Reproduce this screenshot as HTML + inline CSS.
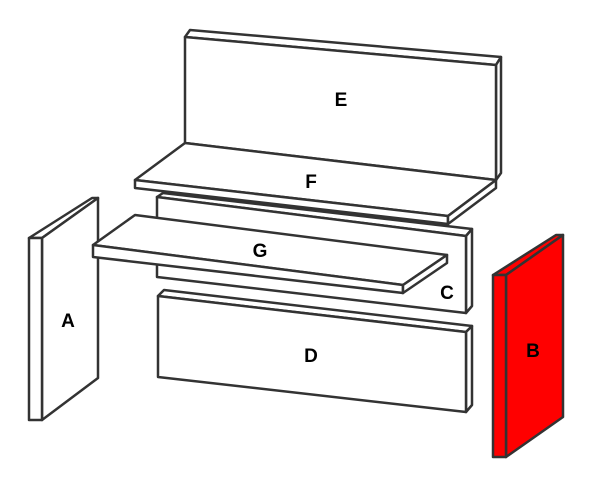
<!DOCTYPE html><html><head><style>body{margin:0;background:#fff}svg{display:block}text{font-family:"Liberation Sans",sans-serif;font-weight:bold;font-size:19px;text-anchor:middle}</style></head><body>
<svg width="600" height="487" viewBox="0 0 600 487">
<g stroke="#333" stroke-width="2.5" stroke-linejoin="round" fill="#fff">
<!-- A -->
<polygon points="29,238 92,198 98,198 42,238"/>
<polygon points="42,238 98,198 98,378 42,420"/>
<polygon points="29,238 42,238 42,420 29,420"/>
<!-- E -->
<polygon points="185,37 190,30 501,57 496,65"/>
<polygon points="496,65 501,57 501,173 496,180"/>
<polygon points="185,37 496,65 496,180 185,143"/>
<!-- C -->
<polygon points="157,197 163,193 472,229 466,236"/>
<polygon points="466,236 472,229 472,306 466,313"/>
<polygon points="157,197 466,236 466,313 157,277"/>
<!-- F -->
<polygon points="185,143 496,180 448,216 135,180"/>
<polygon points="135,180 448,216 448,224 135,188"/>
<polygon points="448,216 496,180 496,188 448,224"/>
<!-- G -->
<polygon points="135,215 447,255 403,285 93,245"/>
<polygon points="93,245 403,285 403,293 93,257"/>
<polygon points="403,285 447,255 447,263 403,293"/>
<!-- D -->
<polygon points="158,296 164,290 472,326 466,332"/>
<polygon points="466,332 472,326 472,405 466,412"/>
<polygon points="158,296 466,332 466,412 158,377"/>
</g>
<g stroke="#333" stroke-width="2.5" stroke-linejoin="round" fill="#f00">
<polygon points="493,275 556,235 563,235 506,275"/>
<polygon points="506,275 563,235 563,417 506,457"/>
<polygon points="493,275 506,275 506,457 493,457"/>
</g>
<text x="341" y="106">E</text>
<text x="311" y="188">F</text>
<text x="260" y="257">G</text>
<text x="447" y="299">C</text>
<text x="311" y="362">D</text>
<text x="68" y="327">A</text>
<text x="533" y="357">B</text>
</svg></body></html>
